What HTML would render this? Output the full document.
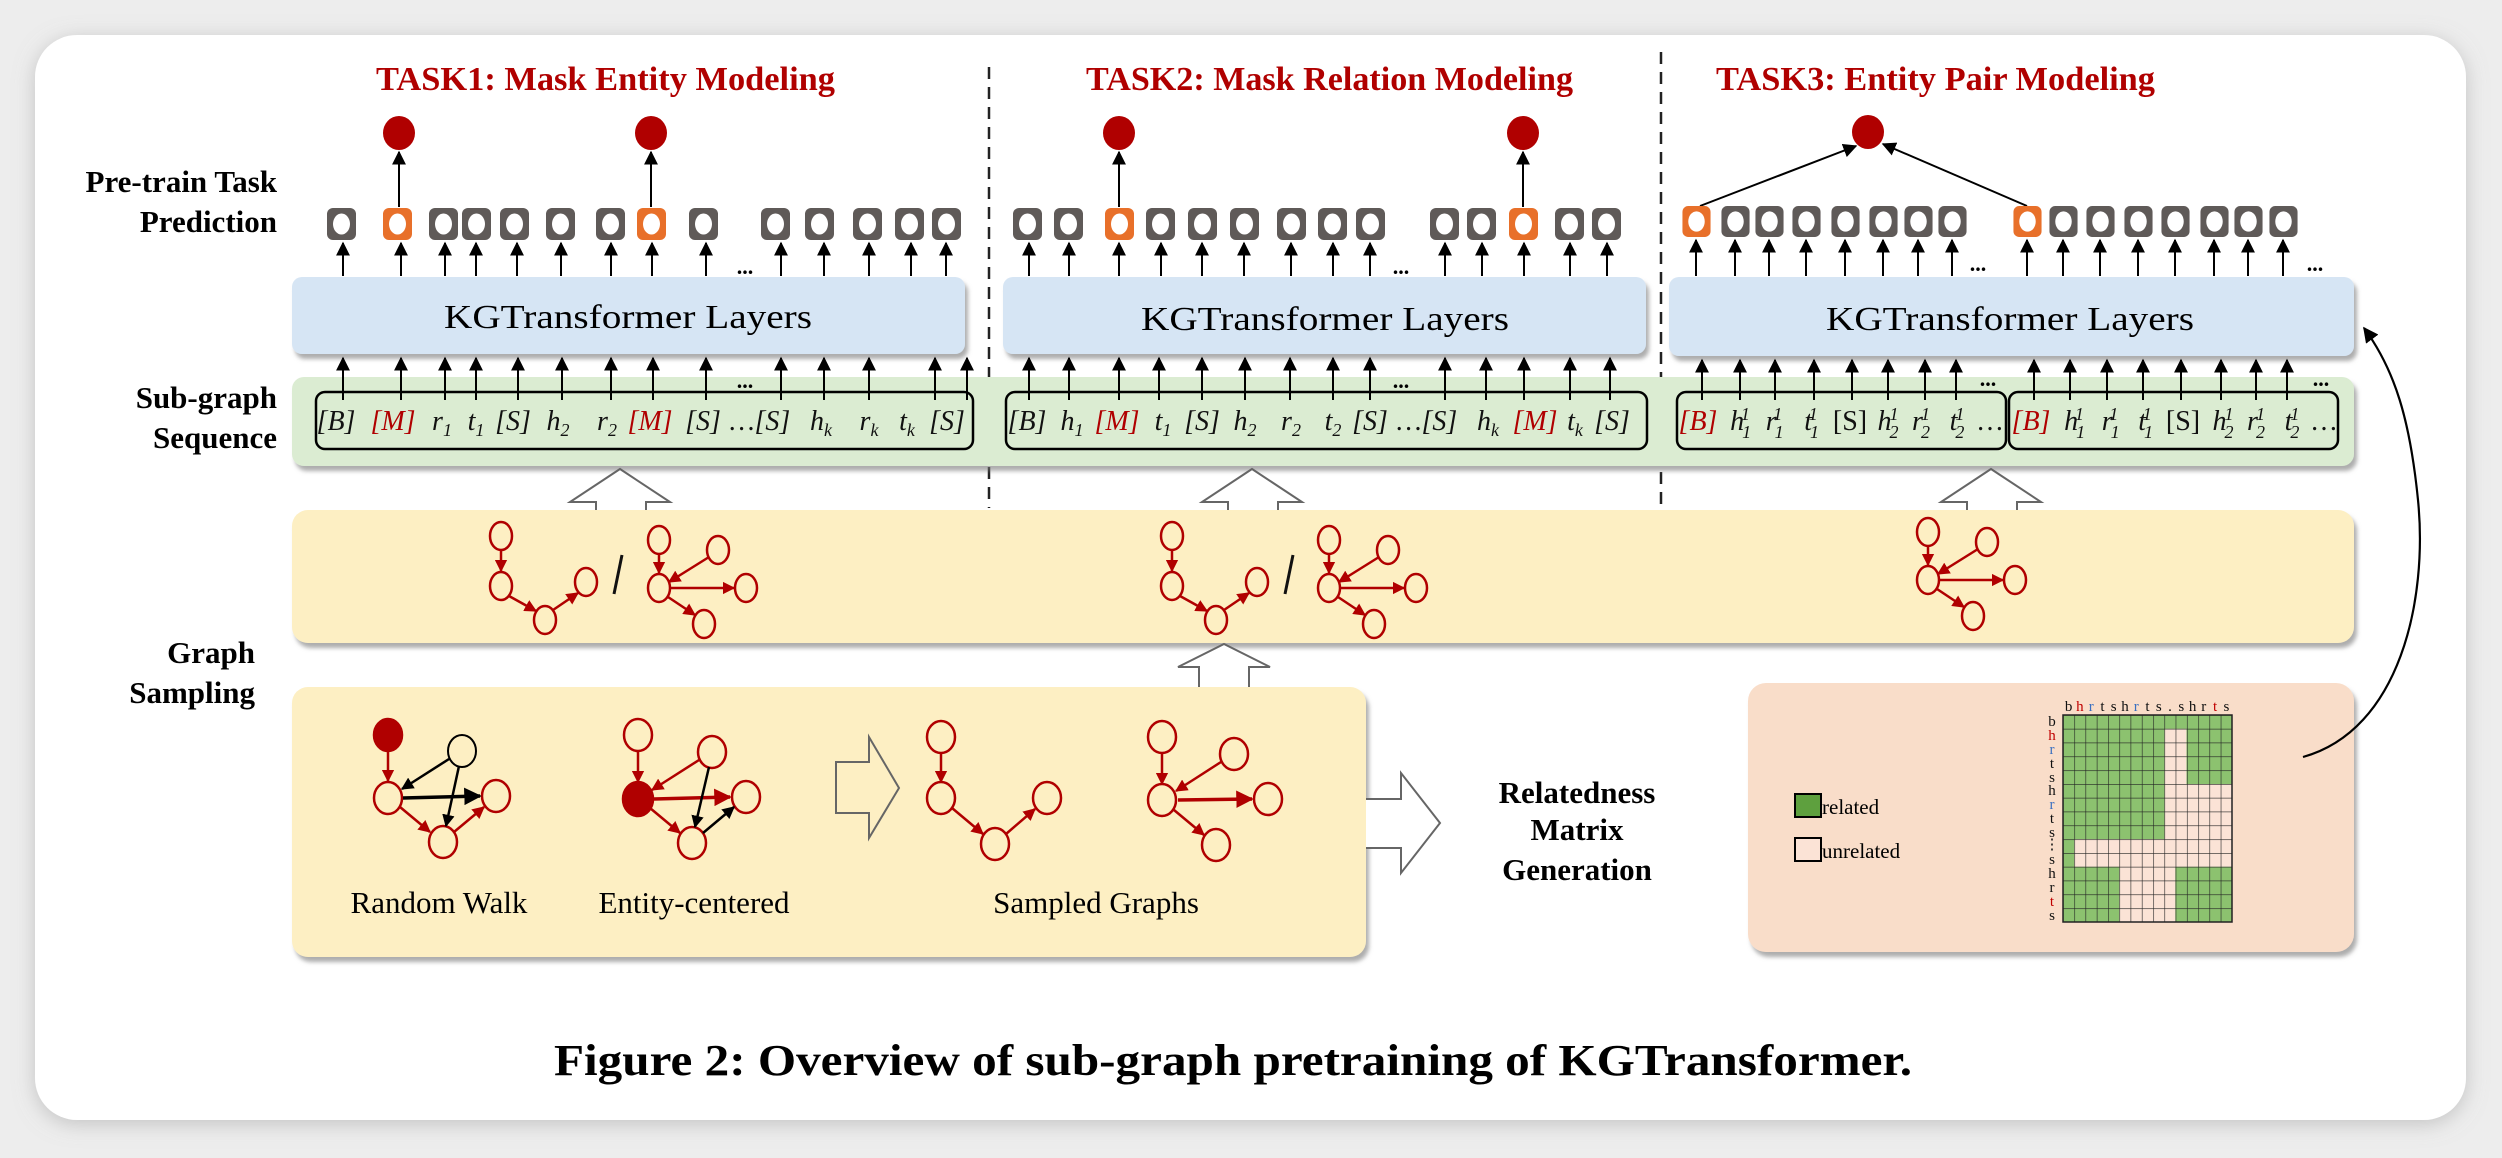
<!DOCTYPE html>
<html><head><meta charset="utf-8"><style>
html,body{margin:0;padding:0;background:#ededed;}
svg{display:block;}
.serif{font-family:"Liberation Serif",serif;}
.tk{font-family:"Liberation Serif",serif;font-style:italic;font-size:28px;fill:#111;}
.sub{font-size:18px;}
</style></head><body>
<svg width="2502" height="1158" viewBox="0 0 2502 1158" xmlns="http://www.w3.org/2000/svg">
<defs>
<filter id="sh" x="-5%" y="-5%" width="110%" height="130%"><feDropShadow dx="3" dy="5" stdDeviation="2" flood-color="#777" flood-opacity="0.6"/></filter>
<filter id="cs" x="-5%" y="-5%" width="110%" height="110%"><feDropShadow dx="0" dy="4" stdDeviation="10" flood-color="#999" flood-opacity="0.5"/></filter>
<marker id="ab" viewBox="0 0 10 10" refX="9" refY="5" markerWidth="7" markerHeight="7" orient="auto"><path d="M0,0 L10,5 L0,10 z" fill="#000"/></marker>
<marker id="ar" viewBox="0 0 10 10" refX="9" refY="5" markerWidth="5" markerHeight="5" orient="auto"><path d="M0,0 L10,5 L0,10 z" fill="#b00000"/></marker>
<marker id="ak" viewBox="0 0 10 10" refX="9" refY="5" markerWidth="5" markerHeight="5" orient="auto"><path d="M0,0 L10,5 L0,10 z" fill="#000"/></marker>
<symbol id="gn" viewBox="0 0 29 32" overflow="visible"><rect x="0" y="0" width="29" height="32" rx="6" fill="#5f5a58"/><ellipse cx="14.5" cy="16" rx="8.5" ry="10.5" fill="#fff"/></symbol>
<symbol id="on" viewBox="0 0 29 32" overflow="visible"><rect x="0" y="0" width="29" height="32" rx="6" fill="#e8702a"/><ellipse cx="14.5" cy="16" rx="8.5" ry="10.5" fill="#fff"/></symbol>
<pattern id="grid" x="2063" y="715" width="11.267" height="13.8" patternUnits="userSpaceOnUse"><path d="M0,0 H11.267 M0,0 V13.8" stroke="#222" stroke-width="1.2" fill="none"/></pattern>
<g id="chainS" fill="none" stroke="#b00000" stroke-width="2.5">
<ellipse cx="501" cy="536" rx="11" ry="14"/><ellipse cx="501" cy="586" rx="11" ry="14"/><ellipse cx="545" cy="620" rx="11" ry="14"/><ellipse cx="586" cy="582" rx="11" ry="14"/>
<line x1="501" y1="550" x2="501" y2="571" marker-end="url(#ar)"/><line x1="509" y1="596" x2="536" y2="611" marker-end="url(#ar)"/><line x1="553" y1="610" x2="578" y2="593" marker-end="url(#ar)"/>
</g>
<g id="starS" fill="none" stroke="#b00000" stroke-width="2.5">
<ellipse cx="659" cy="540" rx="11" ry="14"/><ellipse cx="718" cy="550" rx="11" ry="14"/><ellipse cx="659" cy="588" rx="11" ry="14"/><ellipse cx="746" cy="588" rx="11" ry="14"/><ellipse cx="704" cy="624" rx="11" ry="14"/>
<line x1="659" y1="554" x2="659" y2="573" marker-end="url(#ar)"/><line x1="709" y1="557" x2="669" y2="582" marker-end="url(#ar)"/><line x1="670" y1="588" x2="734" y2="588" marker-end="url(#ar)"/><line x1="668" y1="597" x2="695" y2="615" marker-end="url(#ar)"/>
</g>
</defs>

<rect x="35" y="35" width="2431" height="1085" rx="42" fill="#fff" filter="url(#cs)"/>

<!-- titles -->
<g class="serif" font-weight="bold" font-size="34" fill="#b00000">
<text x="376" y="90" textLength="459" lengthAdjust="spacingAndGlyphs">TASK1: Mask Entity Modeling</text>
<text x="1086" y="90" textLength="487" lengthAdjust="spacingAndGlyphs">TASK2: Mask Relation Modeling</text>
<text x="1716" y="90" textLength="439" lengthAdjust="spacingAndGlyphs">TASK3: Entity Pair Modeling</text>
</g>
<!-- dashed separators -->
<line x1="989" y1="67" x2="989" y2="508" stroke="#222" stroke-width="2.5" stroke-dasharray="12,8"/>
<line x1="1661" y1="52" x2="1661" y2="508" stroke="#222" stroke-width="2.5" stroke-dasharray="12,8"/>

<!-- left labels -->
<g class="serif" font-weight="bold" font-size="31" fill="#000" text-anchor="end">
<text x="277" y="192">Pre-train Task</text>
<text x="277" y="232">Prediction</text>
<text x="277" y="408">Sub-graph</text>
<text x="277" y="448">Sequence</text>
<text x="255" y="663">Graph</text>
<text x="255" y="703">Sampling</text>
</g>

<!-- green band -->
<rect x="292" y="377" width="2062" height="89" rx="12" fill="#dbecd2" filter="url(#sh)"/>
<!-- blue boxes -->
<rect x="292" y="277" width="673" height="77" rx="10" fill="#d6e5f4" filter="url(#sh)"/>
<rect x="1003" y="277" width="643" height="77" rx="10" fill="#d6e5f4" filter="url(#sh)"/>
<rect x="1669" y="277" width="685" height="79" rx="10" fill="#d6e5f4" filter="url(#sh)"/>
<g class="serif" font-size="34" fill="#000" text-anchor="middle">
<text x="628" y="328" textLength="368" lengthAdjust="spacingAndGlyphs">KGTransformer Layers</text>
<text x="1325" y="330" textLength="368" lengthAdjust="spacingAndGlyphs">KGTransformer Layers</text>
<text x="2010" y="330" textLength="368" lengthAdjust="spacingAndGlyphs">KGTransformer Layers</text>
</g>
<!-- sequence boxes -->
<g fill="none" stroke="#000" stroke-width="2.5">
<rect x="316" y="392" width="657" height="57" rx="9"/>
<rect x="1006" y="392" width="641" height="57" rx="9"/>
<rect x="1677" y="392" width="329" height="57" rx="9"/>
<rect x="2009" y="392" width="329" height="57" rx="9"/>
</g>

<!-- arrows task1 -->
<g stroke="#000" stroke-width="2" marker-end="url(#ab)">
<line x1="343" y1="276" x2="343" y2="243"/><line x1="401" y1="276" x2="401" y2="243"/><line x1="445" y1="276" x2="445" y2="243"/><line x1="476" y1="276" x2="476" y2="243"/><line x1="517" y1="276" x2="517" y2="243"/><line x1="561" y1="276" x2="561" y2="243"/><line x1="611" y1="276" x2="611" y2="243"/><line x1="652" y1="276" x2="652" y2="243"/><line x1="706" y1="276" x2="706" y2="243"/><line x1="781" y1="276" x2="781" y2="243"/><line x1="824" y1="276" x2="824" y2="243"/><line x1="869" y1="276" x2="869" y2="243"/><line x1="911" y1="276" x2="911" y2="243"/><line x1="946" y1="276" x2="946" y2="243"/>
<line x1="343" y1="400" x2="343" y2="358"/><line x1="401" y1="400" x2="401" y2="358"/><line x1="445" y1="400" x2="445" y2="358"/><line x1="476" y1="400" x2="476" y2="358"/><line x1="518" y1="400" x2="518" y2="358"/><line x1="562" y1="400" x2="562" y2="358"/><line x1="611" y1="400" x2="611" y2="358"/><line x1="653" y1="400" x2="653" y2="358"/><line x1="706" y1="400" x2="706" y2="358"/><line x1="781" y1="400" x2="781" y2="358"/><line x1="824" y1="400" x2="824" y2="358"/><line x1="869" y1="400" x2="869" y2="358"/><line x1="935" y1="400" x2="935" y2="358"/><line x1="967" y1="400" x2="967" y2="358"/>
<line x1="399" y1="207" x2="399" y2="152"/><line x1="651" y1="207" x2="651" y2="152"/>
<!-- task2 -->
<line x1="1029" y1="276" x2="1029" y2="243"/><line x1="1069" y1="276" x2="1069" y2="243"/><line x1="1119" y1="276" x2="1119" y2="243"/><line x1="1161" y1="276" x2="1161" y2="243"/><line x1="1202" y1="276" x2="1202" y2="243"/><line x1="1244" y1="276" x2="1244" y2="243"/><line x1="1291" y1="276" x2="1291" y2="243"/><line x1="1333" y1="276" x2="1333" y2="243"/><line x1="1370" y1="276" x2="1370" y2="243"/><line x1="1445" y1="276" x2="1445" y2="243"/><line x1="1482" y1="276" x2="1482" y2="243"/><line x1="1524" y1="276" x2="1524" y2="243"/><line x1="1570" y1="276" x2="1570" y2="243"/><line x1="1607" y1="276" x2="1607" y2="243"/>
<line x1="1029" y1="400" x2="1029" y2="358"/><line x1="1069" y1="400" x2="1069" y2="358"/><line x1="1119" y1="400" x2="1119" y2="358"/><line x1="1159" y1="400" x2="1159" y2="358"/><line x1="1202" y1="400" x2="1202" y2="358"/><line x1="1245" y1="400" x2="1245" y2="358"/><line x1="1290" y1="400" x2="1290" y2="358"/><line x1="1333" y1="400" x2="1333" y2="358"/><line x1="1370" y1="400" x2="1370" y2="358"/><line x1="1445" y1="400" x2="1445" y2="358"/><line x1="1486" y1="400" x2="1486" y2="358"/><line x1="1524" y1="400" x2="1524" y2="358"/><line x1="1570" y1="400" x2="1570" y2="358"/><line x1="1610" y1="400" x2="1610" y2="358"/>
<line x1="1119" y1="207" x2="1119" y2="152"/><line x1="1523" y1="207" x2="1523" y2="152"/>
<!-- task3 -->
<line x1="1696" y1="276" x2="1696" y2="240"/><line x1="1735" y1="276" x2="1735" y2="240"/><line x1="1769" y1="276" x2="1769" y2="240"/><line x1="1806" y1="276" x2="1806" y2="240"/><line x1="1845" y1="276" x2="1845" y2="240"/><line x1="1883" y1="276" x2="1883" y2="240"/><line x1="1918" y1="276" x2="1918" y2="240"/><line x1="1952" y1="276" x2="1952" y2="240"/><line x1="2027" y1="276" x2="2027" y2="240"/><line x1="2063" y1="276" x2="2063" y2="240"/><line x1="2100" y1="276" x2="2100" y2="240"/><line x1="2138" y1="276" x2="2138" y2="240"/><line x1="2175" y1="276" x2="2175" y2="240"/><line x1="2214" y1="276" x2="2214" y2="240"/><line x1="2248" y1="276" x2="2248" y2="240"/><line x1="2283" y1="276" x2="2283" y2="240"/>
<line x1="1702" y1="400" x2="1702" y2="360"/><line x1="1740" y1="400" x2="1740" y2="360"/><line x1="1775" y1="400" x2="1775" y2="360"/><line x1="1814" y1="400" x2="1814" y2="360"/><line x1="1852" y1="400" x2="1852" y2="360"/><line x1="1888" y1="400" x2="1888" y2="360"/><line x1="1925" y1="400" x2="1925" y2="360"/><line x1="1956" y1="400" x2="1956" y2="360"/><line x1="2034" y1="400" x2="2034" y2="360"/><line x1="2070" y1="400" x2="2070" y2="360"/><line x1="2107" y1="400" x2="2107" y2="360"/><line x1="2143" y1="400" x2="2143" y2="360"/><line x1="2181" y1="400" x2="2181" y2="360"/><line x1="2221" y1="400" x2="2221" y2="360"/><line x1="2256" y1="400" x2="2256" y2="360"/><line x1="2287" y1="400" x2="2287" y2="360"/>
<line x1="1700" y1="206" x2="1856" y2="146"/><line x1="2027" y1="206" x2="1883" y2="144"/>
</g>

<!-- nodes task1 -->
<g>
<use href="#gn" x="327" y="208" width="29" height="32"/><use href="#on" x="383" y="208" width="29" height="32"/><use href="#gn" x="429" y="208" width="29" height="32"/><use href="#gn" x="462" y="208" width="29" height="32"/><use href="#gn" x="500" y="208" width="29" height="32"/><use href="#gn" x="546" y="208" width="29" height="32"/><use href="#gn" x="596" y="208" width="29" height="32"/><use href="#on" x="637" y="208" width="29" height="32"/><use href="#gn" x="689" y="208" width="29" height="32"/><use href="#gn" x="761" y="208" width="29" height="32"/><use href="#gn" x="805" y="208" width="29" height="32"/><use href="#gn" x="853" y="208" width="29" height="32"/><use href="#gn" x="895" y="208" width="29" height="32"/><use href="#gn" x="932" y="208" width="29" height="32"/>
<use href="#gn" x="1013" y="208" width="29" height="32"/><use href="#gn" x="1054" y="208" width="29" height="32"/><use href="#on" x="1105" y="208" width="29" height="32"/><use href="#gn" x="1146" y="208" width="29" height="32"/><use href="#gn" x="1188" y="208" width="29" height="32"/><use href="#gn" x="1230" y="208" width="29" height="32"/><use href="#gn" x="1277" y="208" width="29" height="32"/><use href="#gn" x="1318" y="208" width="29" height="32"/><use href="#gn" x="1356" y="208" width="29" height="32"/><use href="#gn" x="1430" y="208" width="29" height="32"/><use href="#gn" x="1467" y="208" width="29" height="32"/><use href="#on" x="1509" y="208" width="29" height="32"/><use href="#gn" x="1555" y="208" width="29" height="32"/><use href="#gn" x="1592" y="208" width="29" height="32"/>
<use href="#on" x="1682" y="206" width="29" height="31"/><use href="#gn" x="1721" y="206" width="29" height="31"/><use href="#gn" x="1755" y="206" width="29" height="31"/><use href="#gn" x="1792" y="206" width="29" height="31"/><use href="#gn" x="1831" y="206" width="29" height="31"/><use href="#gn" x="1869" y="206" width="29" height="31"/><use href="#gn" x="1904" y="206" width="29" height="31"/><use href="#gn" x="1938" y="206" width="29" height="31"/><use href="#on" x="2013" y="206" width="29" height="31"/><use href="#gn" x="2049" y="206" width="29" height="31"/><use href="#gn" x="2086" y="206" width="29" height="31"/><use href="#gn" x="2124" y="206" width="29" height="31"/><use href="#gn" x="2161" y="206" width="29" height="31"/><use href="#gn" x="2200" y="206" width="29" height="31"/><use href="#gn" x="2234" y="206" width="29" height="31"/><use href="#gn" x="2269" y="206" width="29" height="31"/>
</g>
<g fill="#b00000">
<ellipse cx="399" cy="133" rx="16" ry="17"/><ellipse cx="651" cy="133" rx="16" ry="17"/><ellipse cx="1119" cy="133" rx="16" ry="17"/><ellipse cx="1523" cy="133" rx="16" ry="17"/><ellipse cx="1868" cy="132" rx="16" ry="17"/>
</g>
<g class="serif" font-size="22" font-weight="bold" fill="#000" text-anchor="middle">
<text x="745" y="274">...</text><text x="745" y="388">...</text>
<text x="1401" y="274">...</text><text x="1401" y="388">...</text>
<text x="1978" y="271">...</text><text x="1988" y="386">...</text>
<text x="2315" y="271">...</text><text x="2321" y="386">...</text>
</g>

<!-- tokens -->
<g class="tk" text-anchor="middle">
<text x="336" y="430">[B]</text>
<text x="393" y="430" fill="#b00000">[M]</text>
<text x="442" y="430">r<tspan class="sub" dy="6">1</tspan></text>
<text x="476" y="430">t<tspan class="sub" dy="6">1</tspan></text>
<text x="513" y="430">[S]</text>
<text x="558" y="430">h<tspan class="sub" dy="6">2</tspan></text>
<text x="607" y="430">r<tspan class="sub" dy="6">2</tspan></text>
<text x="650" y="430" fill="#b00000">[M]</text>
<text x="703" y="430">[S]</text>
<text x="760" y="430">…[S]</text>
<text x="821" y="430">h<tspan class="sub" dy="6">k</tspan></text>
<text x="869" y="430">r<tspan class="sub" dy="6">k</tspan></text>
<text x="907" y="430">t<tspan class="sub" dy="6">k</tspan></text>
<text x="947" y="430">[S]</text>

<text x="1027" y="430">[B]</text>
<text x="1072" y="430">h<tspan class="sub" dy="6">1</tspan></text>
<text x="1117" y="430" fill="#b00000">[M]</text>
<text x="1163" y="430">t<tspan class="sub" dy="6">1</tspan></text>
<text x="1202" y="430">[S]</text>
<text x="1245" y="430">h<tspan class="sub" dy="6">2</tspan></text>
<text x="1291" y="430">r<tspan class="sub" dy="6">2</tspan></text>
<text x="1333" y="430">t<tspan class="sub" dy="6">2</tspan></text>
<text x="1370" y="430">[S]</text>
<text x="1427" y="430">…[S]</text>
<text x="1488" y="430">h<tspan class="sub" dy="6">k</tspan></text>
<text x="1535" y="430" fill="#b00000">[M]</text>
<text x="1575" y="430">t<tspan class="sub" dy="6">k</tspan></text>
<text x="1612" y="430">[S]</text>

<text x="1698" y="430" fill="#b00000">[B]</text>
<text x="1740" y="430">h<tspan class="sub" dx="-2" dy="8">1</tspan><tspan class="sub" dx="-9" dy="-18">1</tspan></text>
<text x="1774" y="430">r<tspan class="sub" dx="-2" dy="8">1</tspan><tspan class="sub" dx="-9" dy="-18">1</tspan></text>
<text x="1811" y="430">t<tspan class="sub" dx="-2" dy="8">1</tspan><tspan class="sub" dx="-9" dy="-18">1</tspan></text>
<text x="1850" y="430" font-style="normal">[S]</text>
<text x="1888" y="430">h<tspan class="sub" dx="-2" dy="8">2</tspan><tspan class="sub" dx="-9" dy="-18">1</tspan></text>
<text x="1921" y="430">r<tspan class="sub" dx="-2" dy="8">2</tspan><tspan class="sub" dx="-9" dy="-18">1</tspan></text>
<text x="1957" y="430">t<tspan class="sub" dx="-2" dy="8">2</tspan><tspan class="sub" dx="-9" dy="-18">1</tspan></text>
<text x="1990" y="430" font-style="normal">…</text>
<text x="2031" y="430" fill="#b00000">[B]</text>
<text x="2074" y="430">h<tspan class="sub" dx="-2" dy="8">1</tspan><tspan class="sub" dx="-9" dy="-18">1</tspan></text>
<text x="2110" y="430">r<tspan class="sub" dx="-2" dy="8">1</tspan><tspan class="sub" dx="-9" dy="-18">1</tspan></text>
<text x="2145" y="430">t<tspan class="sub" dx="-2" dy="8">1</tspan><tspan class="sub" dx="-9" dy="-18">1</tspan></text>
<text x="2183" y="430" font-style="normal">[S]</text>
<text x="2223" y="430">h<tspan class="sub" dx="-2" dy="8">2</tspan><tspan class="sub" dx="-9" dy="-18">1</tspan></text>
<text x="2256" y="430">r<tspan class="sub" dx="-2" dy="8">2</tspan><tspan class="sub" dx="-9" dy="-18">1</tspan></text>
<text x="2292" y="430">t<tspan class="sub" dx="-2" dy="8">2</tspan><tspan class="sub" dx="-9" dy="-18">1</tspan></text>
<text x="2324" y="430" font-style="normal">…</text>
</g>

<!-- hollow up arrows -->
<g fill="#fff" stroke="#666" stroke-width="2">
<path d="M596,512 V502 H570 L620,469 L670,502 H646 V512"/>
<path d="M1228,512 V502 H1202 L1252,469 L1302,502 H1278 V512"/>
<path d="M1967,512 V502 H1941 L1991,469 L2041,502 H2017 V512"/>
</g>

<!-- upper yellow -->
<rect x="292" y="510" width="2062" height="133" rx="16" fill="#fdefc3" filter="url(#sh)"/>
<use href="#chainS"/><use href="#starS"/>
<line x1="622" y1="555" x2="614" y2="594" stroke="#111" stroke-width="3"/>
<use href="#chainS" x="671"/><use href="#starS" x="670"/>
<line x1="1293" y1="555" x2="1285" y2="594" stroke="#111" stroke-width="3"/>
<use href="#starS" x="1269" y="-8"/>

<!-- middle up arrow -->
<path d="M1199,690 V667 H1178 L1224,644 L1270,667 H1249 V690" fill="#fff" stroke="#666" stroke-width="2"/>

<!-- lower yellow -->
<rect x="292" y="687" width="1074" height="270" rx="16" fill="#fdefc3" filter="url(#sh)"/>
<g fill="none" stroke-width="2.5">
<!-- random walk -->
<ellipse cx="388" cy="735" rx="14" ry="16" fill="#b00000" stroke="#b00000"/>
<ellipse cx="462" cy="751" rx="14" ry="16" stroke="#000" stroke-width="2"/>
<ellipse cx="388" cy="798" rx="14" ry="16" stroke="#b00000"/>
<ellipse cx="496" cy="796" rx="14" ry="16" stroke="#b00000"/>
<ellipse cx="443" cy="842" rx="14" ry="16" stroke="#b00000"/>
<line x1="388" y1="751" x2="388" y2="781" stroke="#b00000" marker-end="url(#ar)"/>
<line x1="449" y1="759" x2="402" y2="789" stroke="#000" marker-end="url(#ak)"/>
<line x1="403" y1="798" x2="480" y2="796" stroke="#000" stroke-width="3.5" marker-end="url(#ak)"/>
<line x1="459" y1="766" x2="446" y2="826" stroke="#000" marker-end="url(#ak)"/>
<line x1="400" y1="807" x2="430" y2="832" stroke="#b00000" marker-end="url(#ar)"/>
<line x1="454" y1="832" x2="484" y2="807" stroke="#b00000" marker-end="url(#ar)"/>
<!-- entity centered -->
<ellipse cx="638" cy="735" rx="14" ry="16" stroke="#b00000"/>
<ellipse cx="712" cy="752" rx="14" ry="16" stroke="#b00000"/>
<ellipse cx="638" cy="799" rx="15" ry="17" fill="#b00000" stroke="#b00000"/>
<ellipse cx="746" cy="797" rx="14" ry="16" stroke="#b00000"/>
<ellipse cx="692" cy="843" rx="14" ry="16" stroke="#b00000"/>
<line x1="638" y1="751" x2="638" y2="782" stroke="#b00000" marker-end="url(#ar)"/>
<line x1="699" y1="760" x2="652" y2="790" stroke="#b00000" marker-end="url(#ar)"/>
<line x1="654" y1="799" x2="730" y2="797" stroke="#b00000" stroke-width="3.5" marker-end="url(#ar)"/>
<line x1="650" y1="808" x2="680" y2="833" stroke="#b00000" marker-end="url(#ar)"/>
<line x1="709" y1="767" x2="695" y2="827" stroke="#000" marker-end="url(#ak)"/>
<line x1="703" y1="833" x2="734" y2="807" stroke="#000" marker-end="url(#ak)"/>
<!-- sampled chain -->
<ellipse cx="941" cy="737" rx="14" ry="16" stroke="#b00000"/>
<ellipse cx="941" cy="798" rx="14" ry="16" stroke="#b00000"/>
<ellipse cx="995" cy="844" rx="14" ry="16" stroke="#b00000"/>
<ellipse cx="1047" cy="798" rx="14" ry="16" stroke="#b00000"/>
<line x1="941" y1="753" x2="941" y2="782" stroke="#b00000" marker-end="url(#ar)"/>
<line x1="952" y1="808" x2="983" y2="834" stroke="#b00000" marker-end="url(#ar)"/>
<line x1="1006" y1="834" x2="1035" y2="809" stroke="#b00000" marker-end="url(#ar)"/>
<!-- sampled star -->
<ellipse cx="1162" cy="737" rx="14" ry="16" stroke="#b00000"/>
<ellipse cx="1234" cy="754" rx="14" ry="16" stroke="#b00000"/>
<ellipse cx="1162" cy="800" rx="14" ry="16" stroke="#b00000"/>
<ellipse cx="1268" cy="799" rx="14" ry="16" stroke="#b00000"/>
<ellipse cx="1216" cy="845" rx="14" ry="16" stroke="#b00000"/>
<line x1="1162" y1="753" x2="1162" y2="784" stroke="#b00000" marker-end="url(#ar)"/>
<line x1="1221" y1="762" x2="1176" y2="791" stroke="#b00000" marker-end="url(#ar)"/>
<line x1="1178" y1="800" x2="1252" y2="799" stroke="#b00000" stroke-width="3.5" marker-end="url(#ar)"/>
<line x1="1174" y1="810" x2="1204" y2="835" stroke="#b00000" marker-end="url(#ar)"/>
</g>
<!-- hollow right arrow in box -->
<path d="M836,762 H869 V737 L899,788 L869,838 V813 H836 Z" fill="none" stroke="#666" stroke-width="2"/>
<g class="serif" font-size="31" fill="#000" text-anchor="middle">
<text x="439" y="913">Random Walk</text>
<text x="694" y="913">Entity-centered</text>
<text x="1096" y="913">Sampled Graphs</text>
</g>
<!-- right big arrow -->
<path d="M1366,799 H1401 V773 L1440,823 L1401,873 V848 H1366" fill="#fff" stroke="#666" stroke-width="2"/>
<g class="serif" font-size="31" font-weight="bold" fill="#000" text-anchor="middle">
<text x="1577" y="803">Relatedness</text>
<text x="1577" y="840">Matrix</text>
<text x="1577" y="880">Generation</text>
</g>

<!-- peach box -->
<rect x="1748" y="683" width="606" height="269" rx="18" fill="#f9ddc9" filter="url(#sh)"/>
<rect x="1795" y="794" width="26" height="23" fill="#5ea03e" stroke="#000" stroke-width="2"/>
<rect x="1795" y="838" width="26" height="23" fill="#fbe3d6" stroke="#000" stroke-width="2"/>
<g class="serif" font-size="21" fill="#000">
<text x="1822" y="814">related</text>
<text x="1822" y="858">unrelated</text>
</g>
<!-- matrix -->
<rect x="2063" y="715" width="169" height="207" fill="#fbe3d6"/>
<g fill="#8cc26f">
<rect x="2063" y="715" width="169" height="13.8"/>
<rect x="2063" y="715" width="101.4" height="124.2"/>
<rect x="2186.5" y="715" width="45.5" height="69"/>
<rect x="2063" y="839" width="11.3" height="28"/>
<rect x="2063" y="866.8" width="56.3" height="55.2"/>
<rect x="2175.3" y="866.8" width="56.7" height="55.2"/>
</g>
<rect x="2063" y="715" width="169" height="207" fill="url(#grid)"/>
<rect x="2063" y="715" width="169" height="207" fill="none" stroke="#222" stroke-width="1.5"/>
<g class="serif" font-size="15" fill="#111" text-anchor="middle">
<text y="711"><tspan x="2068.6">b</tspan><tspan x="2079.9" fill="#c00000">h</tspan><tspan x="2091.2" fill="#3a6fc0">r</tspan><tspan x="2102.4">t</tspan><tspan x="2113.7">s</tspan><tspan x="2125">h</tspan><tspan x="2136.2" fill="#3a6fc0">r</tspan><tspan x="2147.5">t</tspan><tspan x="2158.8">s</tspan><tspan x="2170">.</tspan><tspan x="2181.3">s</tspan><tspan x="2192.6">h</tspan><tspan x="2203.8">r</tspan><tspan x="2215.1" fill="#c00000">t</tspan><tspan x="2226.4">s</tspan></text>
<text x="2052" y="726">b</text>
<text x="2052" y="740" fill="#c00000">h</text>
<text x="2052" y="754" fill="#3a6fc0">r</text>
<text x="2052" y="768">t</text>
<text x="2052" y="782">s</text>
<text x="2052" y="795">h</text>
<text x="2052" y="809" fill="#3a6fc0">r</text>
<text x="2052" y="823">t</text>
<text x="2052" y="837">s</text>
<text x="2052" y="849">⋮</text>
<text x="2052" y="864">s</text>
<text x="2052" y="878">h</text>
<text x="2052" y="892">r</text>
<text x="2052" y="906" fill="#c00000">t</text>
<text x="2052" y="920">s</text>
</g>

<!-- curved arrow -->
<path d="M2303,757 C2400,730 2428,600 2418,500 C2410,420 2395,370 2364,328" fill="none" stroke="#000" stroke-width="2.2" marker-end="url(#ab)"/>

<!-- caption -->
<text x="554" y="1075" class="serif" font-size="44" font-weight="bold" fill="#000" textLength="1358" lengthAdjust="spacingAndGlyphs">Figure 2: Overview of sub-graph pretraining of KGTransformer.</text>
</svg>
</body></html>
